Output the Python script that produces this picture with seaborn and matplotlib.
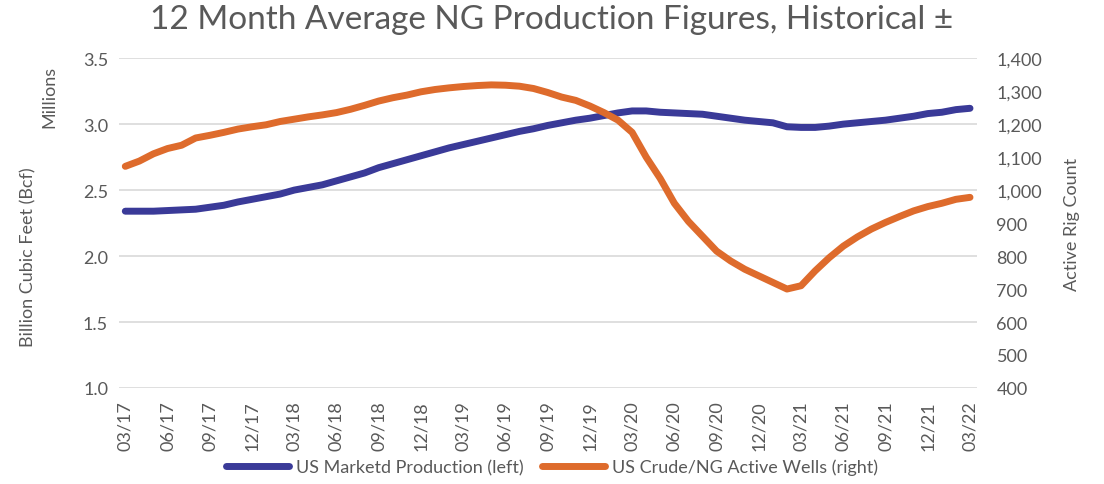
import numpy as np
import pandas as pd
import matplotlib.pyplot as plt
import matplotlib.ticker as mticker
import seaborn as sns

# monthly labels 03/17 .. 03/22
months = pd.date_range('2017-03-01', '2022-03-01', freq='MS').strftime('%m/%y').tolist()

# US marketed production, 12 month average (Bcf, millions)
produccion = [2.34, 2.34, 2.34, 2.345, 2.35, 2.355, 2.37, 2.385, 2.41, 2.43,
              2.45, 2.47, 2.50, 2.52, 2.54, 2.57, 2.60, 2.63, 2.67, 2.70,
              2.73, 2.76, 2.79, 2.82, 2.845, 2.87, 2.895, 2.92, 2.945, 2.965,
              2.99, 3.01, 3.03, 3.045, 3.065, 3.085, 3.10, 3.10, 3.09, 3.085,
              3.08, 3.075, 3.06, 3.045, 3.03, 3.02, 3.01, 2.98, 2.975, 2.975,
              2.985, 3.00, 3.01, 3.02, 3.03, 3.045, 3.06, 3.08, 3.09, 3.11,
              3.12]

# US crude/NG active rigs, 12 month average
pozos = [1072, 1088, 1110, 1126, 1136, 1158, 1166, 1175, 1185, 1192,
         1198, 1208, 1215, 1222, 1228, 1235, 1245, 1257, 1270, 1280,
         1288, 1298, 1305, 1310, 1314, 1317, 1319, 1318, 1315, 1308,
         1296, 1282, 1272, 1255, 1235, 1212, 1175, 1100, 1035, 960,
         905, 860, 815, 785, 760, 740, 720, 700, 710, 755,
         795, 830, 858, 882, 902, 920, 937, 950, 960, 972,
         978]

df = pd.DataFrame({'mes': np.arange(len(months)), 'prod': produccion, 'pozos': pozos})

sns.set_style('white')
plt.rcParams['font.family'] = ['Lato', 'DejaVu Sans']
gris = '#595959'
azul = '#3A3A98'
naranja = '#DE6B2C'

fig = plt.figure(figsize=(11.04, 4.85), dpi=100)
ax = fig.add_axes([0.108, 0.198, 0.777, 0.68])
ax2 = ax.twinx()

sns.lineplot(data=df, x='mes', y='prod', ax=ax, color=azul, lw=3.6,
             solid_capstyle='round', label='US Marketd Production (left)', legend=False)
sns.lineplot(data=df, x='mes', y='pozos', ax=ax2, color=naranja, lw=3.6,
             solid_capstyle='round', label='US Crude/NG Active Wells (right)', legend=False)

ax.set_ylim(1.0, 3.5)
ax.set_yticks(np.arange(1.0, 3.51, 0.5))
ax.yaxis.set_major_formatter(mticker.FormatStrFormatter('%.1f'))
ax2.set_ylim(400, 1400)
ax2.set_yticks(np.arange(400, 1401, 100))
ax2.yaxis.set_major_formatter(mticker.FuncFormatter(lambda v, p: f'{int(v):,}'))
ax.set_xlim(-0.43, 60.5)
ax.set_xticks(df['mes'][::3])
ax.set_xticklabels(months[::3], rotation=90)

ax.grid(axis='y', color='#d9d9d9', lw=1.2)
ax.set_axisbelow(True)
for a in (ax, ax2):
    for s in a.spines.values():
        s.set_visible(False)
    a.tick_params(length=0, labelsize=13, colors=gris, pad=8)
ax.tick_params(axis='x', pad=9)
ax2.tick_params(axis='y', pad=14)

ax.set_xlabel('')
ax.set_ylabel('')
ax2.set_ylabel('Active Rig Count', fontsize=13, color=gris, labelpad=16)
fig.text(0.026, 0.47, 'Billion Cubic Feet (Bcf)', rotation=90, ha='center', va='center',
         fontsize=13, color=gris)
fig.text(0.045, 0.865, 'Millions', rotation=90, ha='center', va='top', fontsize=13, color=gris)

fig.suptitle('12 Month Average NG Production Figures, Historical ±', y=0.99,
             fontsize=24, color=gris)

h1, l1 = ax.get_legend_handles_labels()
h2, l2 = ax2.get_legend_handles_labels()
for h in h1 + h2:
    h.set_linewidth(5)
fig.legend(h1 + h2, l1 + l2, loc='center', bbox_to_anchor=(0.5, 0.035), ncol=2,
           frameon=False, fontsize=13, labelcolor=gris, handlelength=3.5,
           columnspacing=1.0, handletextpad=0.4)

fig.savefig('out.png', dpi=100)
